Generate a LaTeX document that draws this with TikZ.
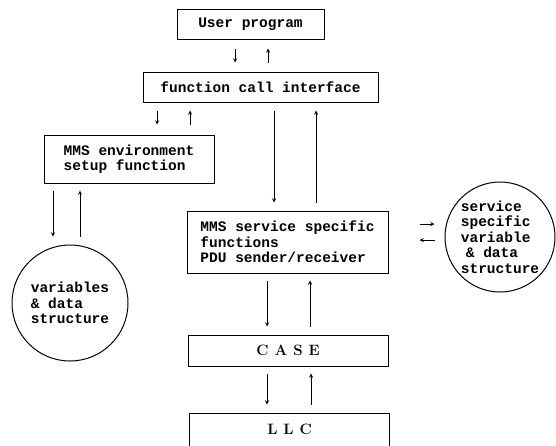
\documentclass[tikz,border=0pt]{standalone}
\usepackage{fontspec}
\setmonofont{Liberation Mono}
\usetikzlibrary{arrows}
\newcommand{\lgap}{\hspace{6pt}}
\tikzset{
  blk/.style={draw, line width=1pt, inner sep=0pt, align=left,
    font=\ttfamily\bfseries\fontsize{14.5}{15.5}\selectfont},
  lyr/.style={draw, line width=1pt, inner sep=0pt, minimum width=200pt,
    minimum height=31pt, font=\bfseries\fontsize{15}{18}\selectfont},
  store/.style={draw, circle, line width=1pt, inner sep=0pt, align=left,
    font=\ttfamily\bfseries\fontsize{14.5}{15.5}\selectfont},
  flow/.style={-stealth, line width=0.9pt},
}

\begin{document}
\begin{tikzpicture}[x=1pt,y=-1pt]
        \useasboundingbox (0,0) rectangle (556,445);

        \node[blk, minimum width=147pt, minimum height=30pt] (user) at (250.5,24) {User program};
        \node[blk, minimum width=235pt, minimum height=30pt] (fci) at (260.5,87) {function call interface};
        \node[blk, minimum width=170pt, minimum height=48pt] (env) at (129,159) {MMS environment\\setup function};
        \node[blk, minimum width=201pt, minimum height=62pt] (serv) at (287.5,242) {MMS service specific\\functions\\PDU sender/receiver};
        \node[lyr] (case) at (288,350.5) {C\lgap A\lgap S\lgap E};
        \node[lyr, minimum height=33pt] (llc) at (289.5,429.5) {L\lgap L\lgap C};

        \node[store, minimum size=116pt] (vars) at (70,303) {variables\\\& data\\structure};
        \node[store, minimum size=110pt] (svar) at (500,237) {service\\specific\\variable\\\hspace{5pt}\& data\\structure};

        % user program <-> function call interface
        \draw[flow, shorten <=9pt, shorten >=9pt] (235,0 |- user.south) -- (235,0 |- fci.north);
        \draw[flow, shorten <=9pt, shorten >=9pt] (268,0 |- fci.north) -- (268,0 |- user.south);

        % function call interface <-> environment setup
        \draw[flow, shorten <=8pt, shorten >=10pt] (157,0 |- fci.south) -- (157,0 |- env.north);
        \draw[flow, shorten <=10pt, shorten >=8pt] (190,0 |- env.north) -- (190,0 |- fci.south);

        % function call interface <-> service functions
        \draw[flow, shorten <=8pt, shorten >=8pt] (274,0 |- fci.south) -- (274,0 |- serv.north);
        \draw[flow, shorten <=8pt, shorten >=8pt] (316,0 |- serv.north) -- (316,0 |- fci.south);

        % environment setup <-> variables
        \draw[flow, shorten <=7pt, shorten >=8pt] (53,0 |- env.south) -- (53,0 |- vars.north);
        \draw[flow, shorten <=8pt, shorten >=7pt] (80,0 |- vars.north) -- (80,0 |- env.south);

        % service functions <-> service variables
        \draw[flow, shorten <=31pt, shorten >=10pt] (serv.east |- 0,224) -- (svar.west |- 0,224);
        \draw[flow, shorten <=10pt, shorten >=31pt] (svar.west |- 0,240) -- (serv.east |- 0,240);

        % service functions <-> CASE
        \draw[flow, shorten <=7pt, shorten >=8pt] (267,0 |- serv.south) -- (267,0 |- case.north);
        \draw[flow, shorten <=8pt, shorten >=7pt] (310,0 |- case.north) -- (310,0 |- serv.south);

        % CASE <-> LLC
        \draw[flow, shorten <=7pt, shorten >=8pt] (267,0 |- case.south) -- (267,0 |- llc.north);
        \draw[flow, shorten <=8pt, shorten >=7pt] (311,0 |- llc.north) -- (311,0 |- case.south);

    \end{tikzpicture}
\end{document}
